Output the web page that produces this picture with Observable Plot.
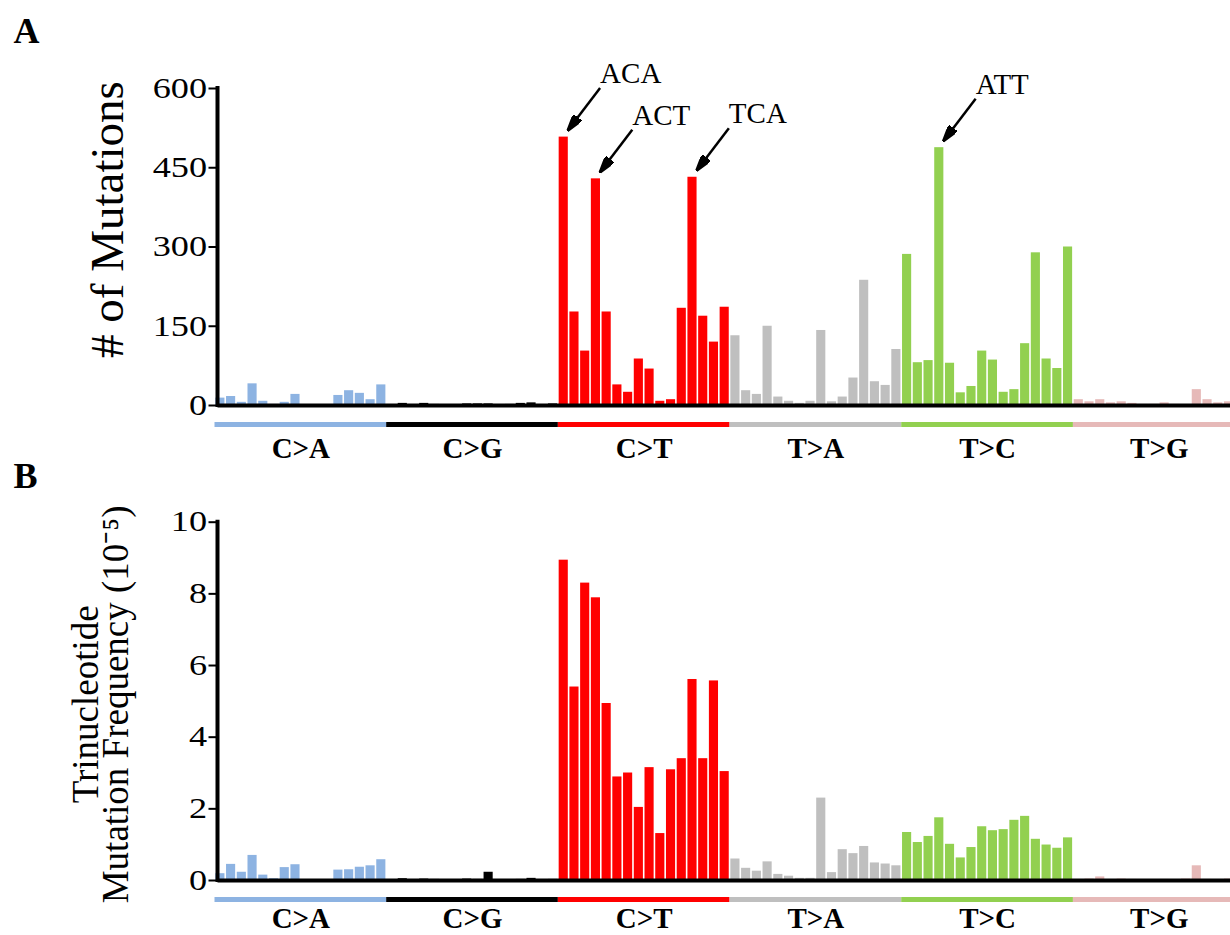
<!DOCTYPE html>
<html>
<head>
<meta charset="utf-8">
<script src="https://cdn.jsdelivr.net/npm/d3@7"></script>
<script src="https://cdn.jsdelivr.net/npm/@observablehq/plot@0.6"></script>
<style>
html, body { margin: 0; padding: 0; background: #fff; overflow: hidden; }
#wrap { position: relative; width: 1230px; height: 935px; background: #fff; }
#wrap svg { position: absolute; left: 0; }
</style>
</head>
<body>
<div id="wrap"></div>
<script>
// ---- categories ----
const types = ["C>A", "C>G", "C>T", "T>A", "T>C", "T>G"];
const typeColors = ["#8db3e2", "#000000", "#ff0000", "#bfbfbf", "#92d050", "#e6b9b8"];
const flank = ["A", "C", "G", "T"];

// ---- panel A: number of mutations (16 contexts per type) ----
const countsCA = [14, 17, 6, 41, 8, 2, 6, 21, 0, 0, 0, 19, 28, 23, 11, 39];
const countsCG = [1, 4, 0, 4, 2, 1, 1, 3, 3, 3, 0, 2, 4, 5, 1, 3];
const countsCT = [508, 177, 103, 429, 177, 39, 25, 88, 69, 8, 11, 184, 432, 169, 120, 186];
const countsTA = [132, 28, 21, 150, 16, 8, 4, 8, 142, 7, 16, 52, 237, 45, 38, 106];
const countsTC = [286, 81, 85, 488, 80, 24, 36, 103, 86, 25, 30, 117, 289, 88, 70, 300];
const countsTG = [11, 7, 11, 5, 7, 4, 2, 2, 5, 2, 1, 30, 11, 5, 7, 4];

// ---- panel B: trinucleotide mutation frequency (x 10^-5) ----
const freqCA = [0.19, 0.45, 0.23, 0.70, 0.15, 0.05, 0.36, 0.44, 0, 0, 0, 0.29, 0.30, 0.37, 0.41, 0.58];
const freqCG = [0.01, 0.05, 0, 0.04, 0.03, 0, 0, 0.04, 0.03, 0.23, 0, 0.02, 0.03, 0.06, 0.01, 0.03];
const freqCT = [8.94, 5.40, 8.30, 7.89, 4.94, 2.89, 3.00, 2.04, 3.15, 1.31, 3.09, 3.40, 5.61, 3.40, 5.57, 3.04];
const freqTA = [0.60, 0.34, 0.26, 0.52, 0.17, 0.12, 0.06, 0.06, 2.30, 0.22, 0.86, 0.75, 0.95, 0.49, 0.46, 0.41];
const freqTC = [1.34, 1.06, 1.23, 1.75, 1.01, 0.63, 0.92, 1.50, 1.39, 1.42, 1.68, 1.79, 1.15, 0.99, 0.90, 1.19];
const freqTG = [0.02, 0.04, 0.10, 0.02, 0.04, 0.03, 0.01, 0.01, 0.03, 0, 0.04, 0.41, 0.03, 0.02, 0.04, 0.03];

// ---- tick labels ----
const ticksA = [0, 150, 300, 450, 600];
const ticksB = [0, 2, 4, 6, 8, 10];

// ---- annotated contexts (panel A) ----
const annotations = [
  {type: "C>T", context: "ACA"},
  {type: "C>T", context: "ACT"},
  {type: "C>T", context: "TCA"},
  {type: "T>C", context: "ATT"}
];

// ---- build table ----
const countsByType = [countsCA, countsCG, countsCT, countsTA, countsTC, countsTG];
const freqByType = [freqCA, freqCG, freqCT, freqTA, freqTC, freqTG];
const bars = types.flatMap((t, k) => countsByType[k].map((v, j) => ({
  index: k * 16 + j,
  type: t,
  context: flank[Math.floor(j / 4)] + t[0] + flank[j % 4],
  count: v,
  freq: freqByType[k][j]
})));
const cats = types.map((t, k) => ({type: t, start: k * 16, end: k * 16 + 16, mid: k * 16 + 8}));

const X0 = 214.5, X1 = 1244.6, W = 1230;

function solidArrow(color) {
  const m = d3.create("svg:marker")
    .attr("viewBox", "0 -5 17 10")
    .attr("refX", 16).attr("refY", 0)
    .attr("markerWidth", 17).attr("markerHeight", 10)
    .attr("markerUnits", "userSpaceOnUse")
    .attr("orient", "auto");
  m.append("path").attr("d", "M0,-5L17,0L0,5Z").attr("fill", color);
  return m.node();
}

function panel({key, yMax, ticks, height, top, bottom, letter, letterBase, labelDy, title, titleSize, titleDx, titleDy, lineHeight, annotate}) {
  const marks = [
    Plot.rectY(bars, {x1: d => d.index, x2: d => d.index + 1, y: key, fill: "type", insetLeft: 0.8, insetRight: 0.8}),
    Plot.ruleY([0], {strokeWidth: 4, stroke: "black"}),
    Plot.ruleX([0], {dx: 2.5, y1: 0, y2: yMax, strokeWidth: 4, stroke: "black", strokeLinecap: "square"}),
    Plot.axisY({ticks, tickSize: 9, tickPadding: 2, fontSize: 29, strokeWidth: 2, label: null}),
    Plot.ruleY(cats, {x1: "start", x2: "end", y: 0, dy: 19, stroke: "type", strokeWidth: 5}),
    Plot.text(cats, {x: "mid", y: 0, dy: labelDy, text: "type", fontSize: 29, fontWeight: "bold", lineAnchor: "bottom"}),
    Plot.text([letter], {frameAnchor: "top-left", dx: 13 - 217.5, dy: letterBase - top, fontSize: 36, fontWeight: "bold", textAnchor: "start", lineAnchor: "bottom"}),
    Plot.text([title], {frameAnchor: "left", rotate: -90, dx: titleDx, dy: titleDy, fontSize: titleSize, lineHeight, textAnchor: "middle", lineAnchor: "bottom"})
  ];
  if (annotate) {
    const kx = 96 / (X1 - X0);
    const ky = yMax / (height - bottom - top);
    const ann = annotations.map(a => {
      const b = bars.find(d => d.type === a.type && d.context === a.context);
      return {label: a.context, x1: b.index + 1 + 31 * kx, y1: b.count + 49 * ky, x2: b.index + 1 - 1 * kx, y2: b.count + 7 * ky};
    });
    marks.push(
      Plot.link(ann, {x1: "x1", y1: "y1", x2: "x2", y2: "y2", stroke: "black", strokeWidth: 2.5, markerEnd: solidArrow}),
      Plot.text(ann, {x: "x1", y: "y1", text: "label", dx: 0, dy: -5, fontSize: 29, textAnchor: "start", lineAnchor: "bottom"})
    );
  }
  const svg = Plot.plot({
    width: W,
    height,
    marginLeft: 217.5,
    marginRight: 0,
    marginTop: top,
    marginBottom: bottom,
    x: {domain: [0, 96], range: [X0, X1], axis: null},
    y: {domain: [0, yMax]},
    color: {domain: types, range: typeColors},
    style: {fontFamily: "'Liberation Serif', 'Times New Roman', serif", background: "transparent", color: "black"},
    marks
  });
  svg.querySelectorAll('g[aria-label="y-axis tick label"] text').forEach(t => {
    const tr = t.getAttribute("transform");
    if (tr) t.setAttribute("transform", tr + " scale(1.25,1)");
  });
  return svg;
}

const wrap = document.getElementById("wrap");
// Panel A: y=0 at 405px, y=600 at 88px
const svgA = panel({
  key: "count", yMax: 600, ticks: ticksA, height: 470, top: 88, bottom: 65,
  letter: "A", letterBase: 42, labelDy: 52,
  title: "# of Mutations", titleSize: 47, titleDx: 122 - 217.5, titleDy: 219 - (88 + 405) / 2, lineHeight: 1,
  annotate: true
});
svgA.style.top = "0px";
wrap.appendChild(svgA);

// Panel B (placed at 450px): y=0 at 880px, y=10 at 521.7px
const svgB = panel({
  key: "freq", yMax: 10, ticks: ticksB, height: 485, top: 71.7, bottom: 55,
  letter: "B", letterBase: 37, labelDy: 47,
  title: "Trinucleotide\nMutation Frequency (10\u207B\u2075)", titleSize: 37, titleDx: 127 - 217.5, titleDy: 3, lineHeight: 0.8,
  annotate: false
});
svgB.style.top = "450px";
wrap.appendChild(svgB);
</script>
</body>
</html>
